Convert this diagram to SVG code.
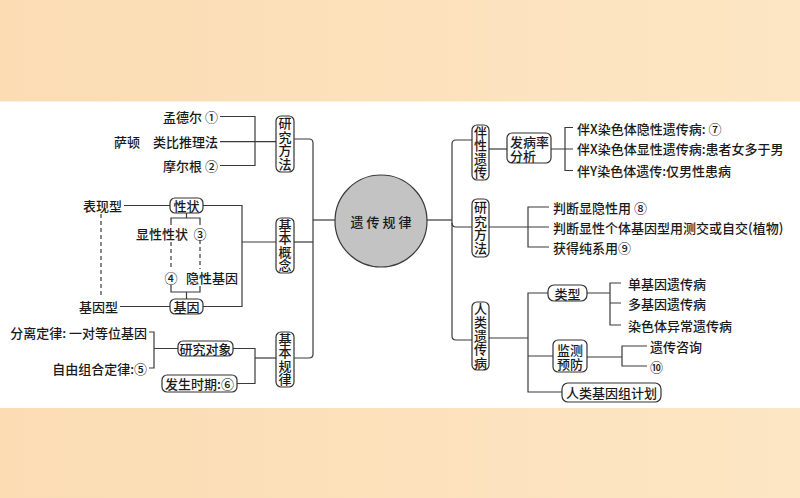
<svg xmlns="http://www.w3.org/2000/svg" width="800" height="498" viewBox="0 0 800 498">
<defs>
<linearGradient id="bg" x1="0" y1="0" x2="1" y2="0">
<stop offset="0" stop-color="#fbdcb3"/>
<stop offset="1" stop-color="#fde6c4"/>
</linearGradient>
<style>
.t{font-family:"Noto Sans CJK SC","Noto Sans",sans-serif;font-size:13px;font-weight:500;fill:#1a1a1a;dominant-baseline:central}
.e{text-anchor:end}
.m{text-anchor:middle}
.v{writing-mode:vertical-rl;text-anchor:middle;letter-spacing:0.5px}
.b{fill:#fff;stroke:#333;stroke-width:1.2}
.c{fill:none;stroke:#3a3a3a;stroke-width:1.2}
.d{stroke-dasharray:4 3}
</style>
</defs>
<rect x="0" y="0" width="800" height="498" fill="url(#bg)"/>
<rect x="0" y="101" width="800" height="1.5" fill="#fdeedd"/>
<rect x="0" y="102" width="800" height="306" fill="#fff"/>

<g id="connectors">
<path class="c" d="M220,116.5 H255 V165.5 H220"/>
<path class="c" d="M220,141.7 H276"/>
<path class="c" d="M294,139 H309 Q313,139 313,143 V354 Q313,358 309,358 H294"/>
<path class="c" d="M294,242 H313"/>
<path class="c" d="M313,220 H335"/>
<path class="c" d="M203,205.5 H242 V306.5 H203"/>
<path class="c" d="M242,242 H276"/>
<path class="c" d="M124,205.5 H170"/>
<path class="c" d="M120,306.5 H170"/>
<path class="c d" d="M101,214 V298"/>
<path class="c" d="M186.5,213 V218 M171,225 V218 H200 V225"/>
<path class="c d" d="M200,240 V269 M171,242 V270"/>
<path class="c" d="M171,285 V292 H200 V286 M186.5,292 V299"/>
<path class="c" d="M233,348.5 H255 V383.5 H237"/>
<path class="c" d="M255,358 H276"/>
<path class="c" d="M149,332 H154 V368 H149 M154,348.5 H178"/>
<path class="c" d="M427,220 H452"/>
<path class="c" d="M472,140 H456 Q452,140 452,144 V336 Q452,340 456,340 H472"/>
<path class="c" d="M452,223 Q452,227 456,227 H472"/>
<path class="c" d="M489,149 H507"/>
<path class="c" d="M551,149 H573 M573,127.5 H565 V170.5 H573"/>
<path class="c" d="M489,227 H549 M549,207 H528 V247 H549"/>
<path class="c" d="M489,338 H528 M548,293 H528 V392 H562 M528,356 H553"/>
<path class="c" d="M587,293 H610 M621,283 H610 V325 H621 M610,303 H621"/>
<path class="c" d="M587,357 H622 M647,346 H622 V366 H647"/>
</g>

<g id="center">
<circle cx="381" cy="221" r="46" fill="#c3c3c3" stroke="#3a3a3a" stroke-width="1.2"/>
<text class="t m" x="382.5" y="221" letter-spacing="3">遗传规律</text>
</g>

<g id="left-method">
<rect class="b" x="276" y="116" width="18" height="56" rx="5"/>
<text class="t v" x="285" y="144">研究方法</text>
</g>
<g id="mendel"><text class="t e" x="218" y="116.5">孟德尔 ①</text></g>
<g id="sutton"><text class="t e" x="140" y="141.7">萨顿</text><text class="t e" x="218" y="141.7">类比推理法</text></g>
<g id="morgan"><text class="t e" x="218" y="165.5">摩尔根 ②</text></g>

<g id="basic-concept">
<rect class="b" x="276" y="218" width="18" height="55" rx="5"/>
<text class="t v" x="285" y="245.5">基本概念</text>
</g>
<g id="trait">
<rect class="b" x="170" y="198" width="33" height="15" rx="5"/>
<text class="t m" x="186.5" y="205.5">性状</text>
</g>
<g id="gene">
<rect class="b" x="170" y="299" width="33" height="15" rx="5"/>
<text class="t m" x="186.5" y="306.5">基因</text>
</g>
<g id="phenotype"><text class="t e" x="122" y="205.5">表现型</text></g>
<g id="genotype"><text class="t e" x="118" y="306.5">基因型</text></g>
<g id="dominant"><text class="t e" x="188" y="233">显性性状</text><text class="t m" x="200" y="233">③</text></g>
<g id="recessive"><text class="t m" x="171" y="277">④</text><text class="t" x="186" y="277">隐性基因</text></g>

<g id="basic-law">
<rect class="b" x="276" y="332" width="18" height="55" rx="5"/>
<text class="t v" x="285" y="359.5">基本规律</text>
</g>
<g id="object">
<rect class="b" x="178" y="341" width="55" height="15" rx="5"/>
<text class="t m" x="205.5" y="348.5">研究对象</text>
</g>
<g id="period">
<rect class="b" x="162" y="375" width="75" height="17" rx="5"/>
<text class="t m" x="199.5" y="383.5">发生时期:⑥</text>
</g>
<g id="segregation"><text class="t e" x="147" y="332">分离定律: 一对等位基因</text></g>
<g id="assortment"><text class="t e" x="147" y="368">自由组合定律:⑤</text></g>

<g id="sex-linked">
<rect class="b" x="472" y="125" width="17" height="55" rx="5"/>
<text class="t v" x="480.5" y="152.5">伴性遗传</text>
</g>
<g id="incidence">
<rect class="b" x="507" y="133" width="44" height="30" rx="5"/>
<text class="t" x="510" y="141.5">发病率</text>
<text class="t" x="510" y="155">分析</text>
</g>
<g id="xr"><text class="t" x="577" y="128">伴X染色体隐性遗传病: ⑦</text></g>
<g id="xd"><text class="t" x="577" y="148">伴X染色体显性遗传病:患者女多于男</text></g>
<g id="y"><text class="t" x="577" y="170">伴Y染色体遗传:仅男性患病</text></g>

<g id="right-method">
<rect class="b" x="472" y="199" width="17" height="58" rx="5"/>
<text class="t v" x="480.5" y="228">研究方法</text>
</g>
<g id="m1"><text class="t" x="553" y="207">判断显隐性用 ⑧</text></g>
<g id="m2"><text class="t" x="553" y="227">判断显性个体基因型用测交或自交(植物)</text></g>
<g id="m3"><text class="t" x="553" y="247">获得纯系用⑨</text></g>

<g id="human">
<rect class="b" x="472" y="302" width="17" height="68" rx="5"/>
<text class="t v" x="480.5" y="336">人类遗传病</text>
</g>
<g id="type">
<rect class="b" x="548" y="285" width="39" height="16" rx="6"/>
<text class="t m" x="567.5" y="293">类型</text>
</g>
<g id="t1"><text class="t" x="628" y="283">单基因遗传病</text></g>
<g id="t2"><text class="t" x="628" y="303">多基因遗传病</text></g>
<g id="t3"><text class="t" x="628" y="325">染色体异常遗传病</text></g>
<g id="monitor">
<rect class="b" x="553" y="340" width="34" height="32" rx="5"/>
<text class="t m" x="570" y="349">监测</text>
<text class="t m" x="570" y="363">预防</text>
</g>
<g id="p1"><text class="t" x="650" y="346">遗传咨询</text></g>
<g id="p2"><text class="t" x="650" y="366">⑩</text></g>
<g id="genome">
<rect class="b" x="562" y="383" width="99" height="19" rx="6"/>
<text class="t m" x="611.5" y="392.5">人类基因组计划</text>
</g>
</svg>
